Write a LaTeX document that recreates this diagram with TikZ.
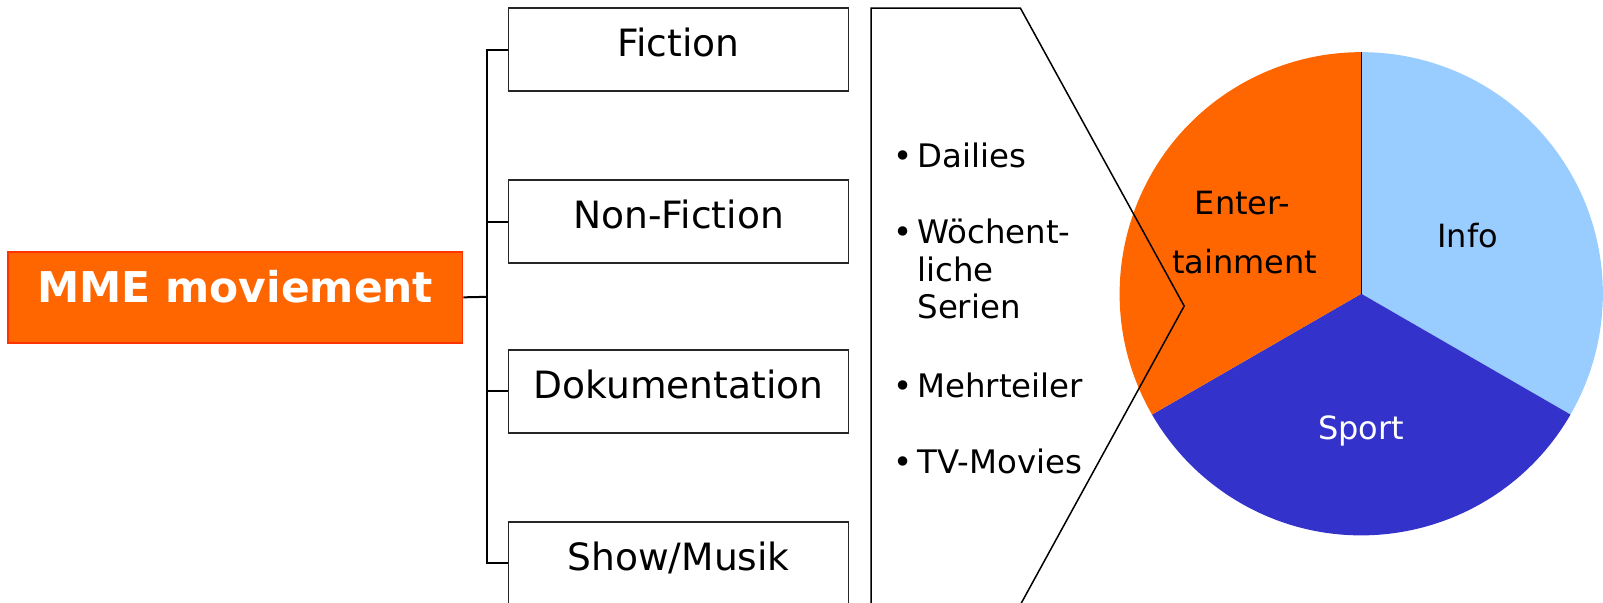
\documentclass[tikz,border=0pt]{standalone}
\usepackage{fontspec}
\setmainfont{DejaVu Sans}
\usetikzlibrary{positioning}

\definecolor{mmeorange}{HTML}{FF6600}
\definecolor{mmered}{HTML}{FF3300}
\definecolor{sportblue}{HTML}{3333CC}
\definecolor{infoblue}{HTML}{99CCFF}

\tikzset{
  genre/.style={draw=black!85, line width=0.75pt, fill=white, minimum width=169.9pt,
    minimum height=41.5pt, inner sep=0pt, text height=0.95em, text depth=0.25em,
    font=\fontsize{18.8}{22}\selectfont},
  branch/.style={line width=1pt},
  item/.style={anchor=base west, inner sep=0pt, font=\fontsize{16.2}{19}\selectfont},
  dot/.style={anchor=base, inner sep=0pt, font=\fontsize{16.2}{19}\selectfont},
  slicelabel/.style={anchor=base, inner sep=0pt, font=\fontsize{16}{19}\selectfont}
}

\begin{document}
\begin{tikzpicture}[x=0.51175pt, y=-0.51175pt]
    \useasboundingbox (0,0) rectangle (1566.2,588.2);
    \clip (0,0) rectangle (1566.2,588.2);
    % main box
    \node (mme) at (230,290.5) [draw=mmered, fill=mmeorange, line width=0.75pt,
      minimum width=227.2pt, minimum height=45.5pt, text=white,
      text height=0.73em, text depth=0.25em,
      font=\fontsize{21.2}{25}\selectfont\bfseries] {MME moviement};
    % genres
    \node (fiction) at (663,48.5) [genre] {Fiction};
    \node (nonfiction) at (663,216.5) [genre] {Non-Fiction};
    \node (doku) at (663,382.5) [genre] {Dokumentation};
    \node (show) at (663,550.5) [genre] {Show/Musik};
    \coordinate (fork) at (476,290);
    \draw[branch] (mme.east) -- (fork);
    \draw[branch] (fork) |- (fiction.west);
    \draw[branch] (fork) |- (nonfiction.west);
    \draw[branch] (fork) |- (doku.west);
    \draw[branch] (fork) |- (show.west);
    % pie
    \coordinate (pc) at (1330,287);
    \fill[infoblue] (pc) -- ++(90:120.8pt) arc[start angle=90, end angle=-30, radius=120.8pt] -- cycle;
    \fill[sportblue] (pc) -- ++(-30:120.8pt) arc[start angle=-30, end angle=-150, radius=120.8pt] -- cycle;
    \fill[mmeorange] (pc) -- ++(210:120.8pt) arc[start angle=210, end angle=90, radius=120.8pt] -- cycle;
    \draw[line width=0.6pt] (pc) -- ++(90:120.8pt);
    \node (info) at (1434,242) [slicelabel] {Info};
    \node (enter) at (1214,210) [slicelabel] {Enter-};
    \node (tain) at (1216,267) [slicelabel] {tainment};
    \node (sport) at (1330,429) [slicelabel, text=white] {Sport};
    % format panel
    \draw[line width=0.75pt] (851,640) -- (851,8) -- (997,8) -- (1157,299) -- (970,640);
    \node (d1) at (882,164) [dot] {•};
    \node (dailies) at (896,164) [item] {Dailies};
    \node (d2) at (882,238) [dot] {•};
    \node (woch) at (896,238) [item] {Wöchent-};
    \node (liche) at (896,275) [item] {liche};
    \node (serien) at (896,311) [item] {Serien};
    \node (d3) at (882,388) [dot] {•};
    \node (mehr) at (896,388) [item] {Mehrteiler};
    \node (d4) at (882,463) [dot] {•};
    \node (tvm) at (896,463) [item] {TV-Movies};
\end{tikzpicture}
\end{document}
